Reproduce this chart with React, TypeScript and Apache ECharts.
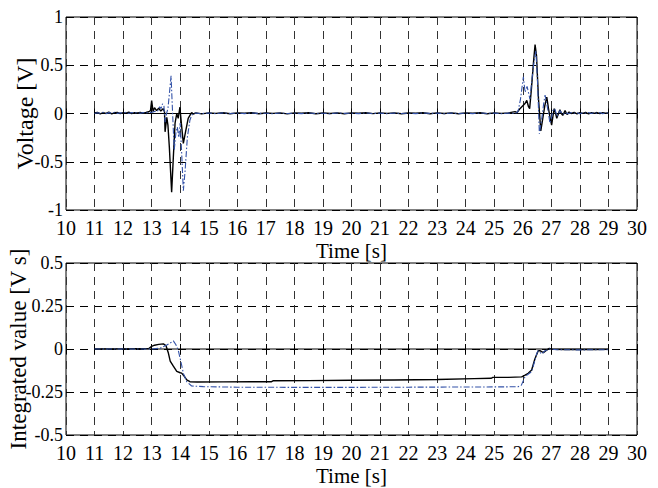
import React, { useEffect, useRef } from "react";
import * as echarts from "echarts";

// ---------- data ----------
const xTicks = { min: 10, max: 30, step: 1 };
const zeroRef: [number, number][] = [[11, 0], [29, 0]];

// Voltage, black solid trace
const vBlackPre: [number, number][] = [
  [11.0, 0.005], [11.1, 0.012], [11.2, -0.004], [11.3, 0.009], [11.4, 0.002], [11.5, 0.014],
  [11.6, -0.003], [11.7, 0.008], [11.8, 0.011], [11.9, -0.002], [12.0, 0.01], [12.1, 0.004],
  [12.2, 0.013], [12.3, -0.001], [12.4, 0.009], [12.5, 0.006], [12.6, 0.012], [12.7, 0.003],
  [12.8, 0.01], [12.9, 0.018],
];
const vBlackEvent1: [number, number][] = [
  [12.96, 0.03], [13.0, 0.135], [13.05, 0.02], [13.1, 0.06], [13.17, 0.03], [13.25, 0.055],
  [13.32, 0.025], [13.4, 0.05], [13.45, 0.02], [13.47, -0.19], [13.53, -0.04], [13.57, -0.12],
  [13.62, -0.35], [13.7, -0.815], [13.76, -0.45], [13.82, -0.1], [13.88, 0.0], [13.93, -0.05],
  [13.99, 0.065], [14.04, -0.1], [14.11, -0.31], [14.18, -0.2], [14.28, -0.05], [14.34, -0.02],
  [14.4, 0.01], [14.46, -0.005],
];
const vBlackMid: [number, number][] = [
  [14.55, 0.006], [14.75, -0.004], [15.0, 0.007], [15.25, 0.001], [15.5, 0.008], [15.75, -0.003],
  [16.0, 0.006], [16.25, 0.002], [16.5, 0.009], [16.75, -0.002], [17.0, 0.005], [17.25, 0.001],
  [17.5, 0.007], [17.75, -0.004], [18.0, 0.006], [18.25, 0.003], [18.5, 0.008], [18.75, -0.002],
  [19.0, 0.005], [19.25, 0.0], [19.5, 0.007], [19.75, -0.003], [20.0, 0.006], [20.25, 0.002],
  [20.5, 0.008], [20.75, -0.001], [21.0, 0.006], [21.25, 0.001], [21.5, 0.007], [21.75, -0.003],
  [22.0, 0.005], [22.25, 0.002], [22.5, 0.008], [22.75, -0.002], [23.0, 0.006], [23.25, 0.0],
  [23.5, 0.007], [23.75, -0.003], [24.0, 0.006], [24.25, 0.002], [24.5, 0.008], [24.75, -0.002],
  [25.0, 0.006], [25.25, 0.001], [25.5, 0.007],
];
const vBlackEvent2: [number, number][] = [
  [25.73, 0.02], [25.8, 0.01], [25.9, 0.05], [26.0, 0.08], [26.07, 0.1], [26.14, 0.135],
  [26.2, 0.07], [26.24, 0.05], [26.3, 0.25], [26.38, 0.55], [26.43, 0.715], [26.48, 0.6],
  [26.55, 0.15], [26.63, -0.18], [26.7, -0.05], [26.77, 0.08], [26.84, 0.17], [26.9, 0.05],
  [26.96, -0.05], [27.01, -0.12], [27.06, -0.02], [27.1, 0.05], [27.15, 0.0], [27.19, -0.05],
  [27.25, 0.0], [27.3, 0.04], [27.35, 0.0], [27.4, -0.02], [27.48, 0.03], [27.55, -0.01],
  [27.62, 0.015],
];
const vBlackPost: [number, number][] = [
  [27.7, 0.0], [27.8, 0.012], [27.9, -0.004], [28.0, 0.009], [28.1, 0.001], [28.2, 0.011],
  [28.3, -0.003], [28.4, 0.008], [28.5, 0.002], [28.6, 0.01], [28.7, -0.002], [28.8, 0.009],
  [28.9, 0.003], [29.0, 0.006],
];

// Voltage, blue dash-dot trace
const vBluePre: [number, number][] = [
  [11.0, 0.0], [11.1, 0.008], [11.2, 0.003], [11.3, 0.012], [11.4, -0.002], [11.5, 0.009],
  [11.6, 0.004], [11.7, 0.013], [11.8, 0.001], [11.9, 0.008], [12.0, 0.005], [12.1, 0.012],
  [12.2, -0.001], [12.3, 0.01], [12.4, 0.004], [12.5, 0.011], [12.6, 0.002], [12.7, 0.009],
  [12.8, 0.005], [12.9, 0.012], [13.0, 0.01], [13.1, 0.02],
];
const vBlueEvent1: [number, number][] = [
  [13.2, 0.02], [13.28, 0.07], [13.33, 0.05], [13.38, 0.1], [13.43, 0.08], [13.47, -0.09],
  [13.52, 0.0], [13.57, 0.05], [13.62, 0.2], [13.68, 0.39], [13.72, 0.1], [13.79, -0.38],
  [13.85, -0.2], [13.9, -0.14], [13.95, -0.25], [14.0, -0.1], [14.05, -0.4], [14.11, -0.8],
  [14.17, -0.6], [14.25, -0.25], [14.34, -0.07], [14.4, -0.02], [14.46, 0.0],
];
const vBlueMid: [number, number][] = [
  [14.55, 0.004], [14.75, 0.0], [15.0, 0.005], [15.25, -0.002], [15.5, 0.006], [15.75, 0.0],
  [16.0, 0.004], [16.25, -0.001], [16.5, 0.006], [16.75, 0.001], [17.0, 0.003], [17.25, -0.002],
  [17.5, 0.005], [17.75, 0.0], [18.0, 0.004], [18.25, -0.001], [18.5, 0.006], [18.75, 0.0],
  [19.0, 0.003], [19.25, -0.002], [19.5, 0.005], [19.75, 0.001], [20.0, 0.004], [20.25, -0.001],
  [20.5, 0.006], [20.75, 0.0], [21.0, 0.004], [21.25, -0.002], [21.5, 0.005], [21.75, 0.0],
  [22.0, 0.003], [22.25, -0.001], [22.5, 0.006], [22.75, 0.001], [23.0, 0.004], [23.25, -0.002],
  [23.5, 0.005], [23.75, 0.0], [24.0, 0.004], [24.25, -0.001], [24.5, 0.006], [24.75, 0.0],
  [25.0, 0.004], [25.25, -0.002], [25.5, 0.005], [25.7, 0.0],
];
const vBlueEvent2: [number, number][] = [
  [25.8, 0.01], [25.84, 0.03], [25.92, 0.15], [26.02, 0.38], [26.08, 0.22], [26.15, 0.28],
  [26.25, 0.15], [26.32, 0.35], [26.4, 0.55], [26.46, 0.65], [26.52, 0.3], [26.58, -0.21],
  [26.64, -0.1], [26.68, -0.02], [26.73, 0.1], [26.78, 0.19], [26.84, 0.1], [26.9, 0.0],
  [26.95, -0.1], [27.0, -0.05], [27.05, 0.03], [27.12, 0.05], [27.2, -0.03], [27.3, 0.03],
  [27.4, -0.01],
];
const vBluePost: [number, number][] = [
  [27.5, 0.008], [27.6, -0.002], [27.7, 0.01], [27.8, 0.002], [27.9, 0.009], [28.0, -0.003],
  [28.1, 0.008], [28.2, 0.003], [28.3, 0.011], [28.4, -0.001], [28.5, 0.009], [28.6, 0.002],
  [28.7, 0.01], [28.8, -0.002], [28.9, 0.007], [29.0, 0.004],
];

// Integrated value, black solid trace
const iBlack: [number, number][] = [
  [11, 0], [12, 0.001], [12.9, 0.003], [13.0, 0.015], [13.1, 0.022], [13.25, 0.027],
  [13.41, 0.03], [13.5, 0.02], [13.58, -0.02], [13.65, -0.07], [13.76, -0.1], [13.88, -0.13],
  [14.0, -0.138], [14.05, -0.14], [14.15, -0.16], [14.23, -0.18], [14.34, -0.19], [14.6, -0.192],
  [15.5, -0.191], [16.5, -0.19], [17.2, -0.19], [17.25, -0.185], [18.5, -0.184], [20, -0.182],
  [21.5, -0.18], [23, -0.177], [24.3, -0.172], [24.9, -0.17], [24.95, -0.165], [25.5, -0.165],
  [25.96, -0.162], [26.08, -0.152], [26.19, -0.141], [26.31, -0.122], [26.42, -0.06],
  [26.54, -0.01], [26.6, -0.01], [26.72, -0.021], [26.82, -0.008], [26.93, 0.004],
  [27.05, -0.002], [27.5, -0.003], [28.5, -0.003], [29, -0.002],
];

// Integrated value, blue dash-dot trace
const iBlue: [number, number][] = [
  [11, 0], [12, 0], [13.0, 0.0], [13.3, 0.005], [13.53, 0.023], [13.65, 0.035], [13.76, 0.047],
  [13.85, 0.025], [13.93, -0.006], [14.02, -0.07], [14.11, -0.141], [14.23, -0.19], [14.4, -0.215],
  [14.81, -0.219], [16, -0.222], [18, -0.223], [20, -0.223], [22, -0.222], [24, -0.221],
  [25.5, -0.22], [25.84, -0.219], [25.95, -0.21], [26.08, -0.16], [26.31, -0.132], [26.4, -0.08],
  [26.49, -0.025], [26.54, -0.01], [26.66, -0.029], [26.78, -0.01], [26.95, 0], [27.2, -0.004],
  [28, -0.005], [29, -0.004],
];

const vBlack = [...vBlackPre, ...vBlackEvent1, ...vBlackMid, ...vBlackEvent2, ...vBlackPost];
const vBlue = [...vBluePre, ...vBlueEvent1, ...vBlueMid, ...vBlueEvent2, ...vBluePost];

const yTop = { min: -1, max: 1, step: 0.5, name: "Voltage [V]" };
const yBottom = { min: -0.5, max: 0.5, step: 0.25, name: "Integrated value [V s]" };
const xName = "Time [s]";

// ---------- styling ----------
const FONT = "Times New Roman";
const BLUE = "#3352a8";

function xAxes(grid: number) {
  return [
    {
      gridIndex: grid,
      type: "value",
      min: xTicks.min,
      max: xTicks.max,
      interval: xTicks.step,
      position: "bottom",
      name: xName,
      nameLocation: "middle",
      nameGap: 30,
      nameMoveOverlap: false,
      nameTextStyle: { fontFamily: FONT, fontSize: 21, color: "#000" },
      axisLine: { show: false },
      axisTick: { show: true, inside: true, length: 5, lineStyle: { color: "#000" } },
      axisLabel: { fontFamily: FONT, fontSize: 20, color: "#000", margin: 8 },
      splitLine: { show: true, lineStyle: { color: "#333", type: [8, 6], width: 1 } },
    },
    {
      gridIndex: grid,
      type: "value",
      min: xTicks.min,
      max: xTicks.max,
      interval: xTicks.step,
      position: "top",
      axisLine: { show: false },
      axisTick: { show: true, inside: true, length: 5, lineStyle: { color: "#000" } },
      axisLabel: { show: false },
      splitLine: { show: false },
    },
  ];
}

function yAxes(
  grid: number,
  cfg: { min: number; max: number; step: number; name: string },
  gap: number,
  nameSize: number
) {
  return [
    {
      gridIndex: grid,
      type: "value",
      min: cfg.min,
      max: cfg.max,
      interval: cfg.step,
      position: "left",
      name: cfg.name,
      nameLocation: "middle",
      nameGap: gap,
      nameMoveOverlap: false,
      nameTextStyle: { fontFamily: FONT, fontSize: nameSize, color: "#000" },
      axisLine: { show: false },
      axisTick: { show: true, inside: true, length: 5, lineStyle: { color: "#000" } },
      axisLabel: { fontFamily: FONT, fontSize: 18, color: "#000", margin: 3 },
      splitLine: { show: true, lineStyle: { color: "#000", type: [8, 6], width: 1 } },
    },
    {
      gridIndex: grid,
      type: "value",
      min: cfg.min,
      max: cfg.max,
      interval: cfg.step,
      position: "right",
      axisLine: { show: false },
      axisTick: { show: true, inside: true, length: 5, lineStyle: { color: "#000" } },
      axisLabel: { show: false },
      splitLine: { show: false },
    },
  ];
}

function lineSeries(data: [number, number][], xi: number, yi: number, kind: "zero" | "black" | "blue") {
  const style =
    kind === "zero"
      ? { color: "#000", width: 1 }
      : kind === "black"
      ? { color: "#000", width: 1.4 }
      : { color: BLUE, width: 1.1, type: [6, 2, 1.5, 2] };
  return {
    type: "line",
    xAxisIndex: xi,
    yAxisIndex: yi,
    data,
    symbol: "none",
    showSymbol: false,
    lineStyle: style,
    itemStyle: { color: style.color },
    z: kind === "blue" ? 4 : 3,
  };
}

export default function App() {
  const ref = useRef<HTMLDivElement>(null);
  useEffect(() => {
    if (!ref.current) return;
    const chart = echarts.init(ref.current, null, { renderer: "svg" });
    chart.setOption({
      animation: false,
      backgroundColor: "#fff",
      grid: [
        { left: 66, right: 21, top: 17, height: 193, show: true, borderColor: "#000", borderWidth: 1, backgroundColor: "transparent", containLabel: false, outerBoundsMode: "none" },
        { left: 66, right: 21, top: 263, height: 172, show: true, borderColor: "#000", borderWidth: 1, backgroundColor: "transparent", containLabel: false, outerBoundsMode: "none" },
      ],
      xAxis: [...xAxes(0), ...xAxes(1)],
      yAxis: [...yAxes(0, yTop, 29, 24), ...yAxes(1, yBottom, 36, 23)],
      series: [
        lineSeries(zeroRef, 0, 0, "zero"),
        lineSeries(vBlack, 0, 0, "black"),
        lineSeries(vBlue, 0, 0, "blue"),
        lineSeries(zeroRef, 2, 2, "zero"),
        lineSeries(iBlack, 2, 2, "black"),
        lineSeries(iBlue, 2, 2, "blue"),
      ],
    });
    return () => chart.dispose();
  }, []);
  return (
    <div
      ref={ref}
      style={{ position: "absolute", left: 0, top: 0, width: 658, height: 488 }}
    />
  );
}
